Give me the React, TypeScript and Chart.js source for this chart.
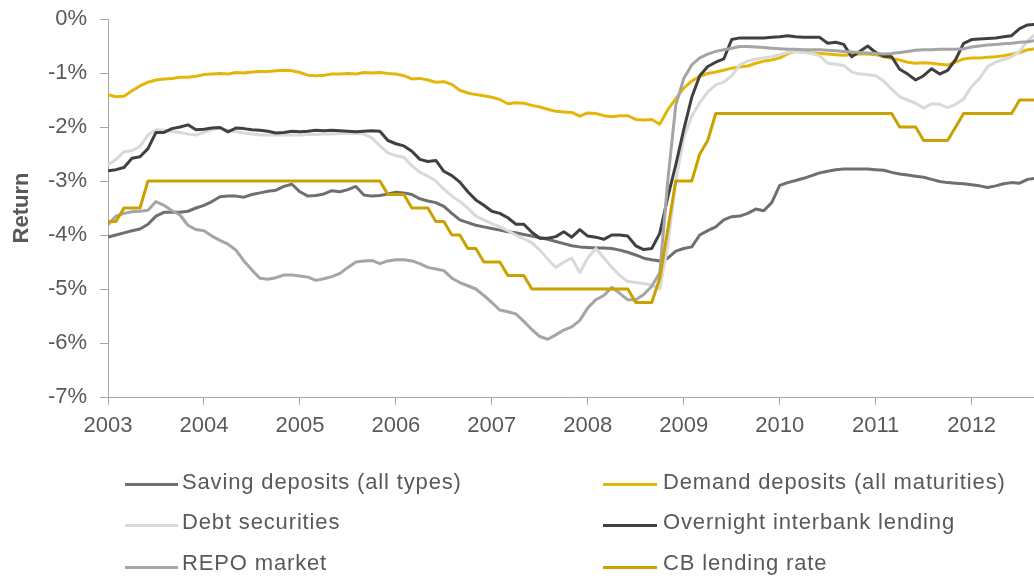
import React, { useEffect, useRef } from 'react';
import { Chart, registerables } from 'chart.js';

Chart.register(...registerables);

const FONT = '"Liberation Sans", Arial, Helvetica, sans-serif';
const TEXT_COLOR = '#595959';
const AXIS_COLOR = '#a6a6a6';

const startYear = 2003;
const xMin = 2003;
const xMax = 2012.65;
const yearTicks = [2003, 2004, 2005, 2006, 2007, 2008, 2009, 2010, 2011, 2012];
const yMin = -7;
const yMax = 0;
const yAxisTitle = 'Return';

const seriesNames = [
  'Saving deposits (all types)',
  'Demand deposits (all maturities)',
  'Debt securities',
  'Overnight interbank lending',
  'REPO market',
  'CB lending rate',
];

const seriesColors = ['#6f6f6f', '#e4b60a', '#d9d9d9', '#404040', '#a5a5a5', '#c9a200'];

// monthly values, Jan 2003 .. Sep 2012 (%)
const saving = [
  -4.04, -4.0, -3.96, -3.92, -3.89, -3.8, -3.65, -3.58, -3.58, -3.58, -3.56, -3.5,
  -3.45, -3.38, -3.29, -3.28, -3.28, -3.3, -3.25, -3.22, -3.19, -3.17, -3.1, -3.06,
  -3.2, -3.28, -3.27, -3.24, -3.18, -3.2, -3.16, -3.1, -3.26, -3.28, -3.27, -3.24,
  -3.21, -3.22, -3.25, -3.33, -3.37, -3.4, -3.47, -3.6, -3.72, -3.77, -3.82, -3.85,
  -3.88, -3.91, -3.94, -3.96, -3.99, -4.02, -4.05, -4.08, -4.12, -4.16, -4.2, -4.22,
  -4.23, -4.24, -4.24, -4.25, -4.28, -4.32, -4.37, -4.43, -4.46, -4.48, -4.43, -4.3,
  -4.25, -4.22, -4.0, -3.92, -3.85, -3.72, -3.66, -3.65, -3.6, -3.52, -3.55, -3.4,
  -3.08, -3.03, -2.99, -2.95, -2.9, -2.85, -2.82, -2.79, -2.78, -2.78, -2.78, -2.78,
  -2.79, -2.8, -2.84, -2.87, -2.89, -2.91, -2.93, -2.97, -3.01, -3.03, -3.04, -3.05,
  -3.07, -3.09, -3.12, -3.09, -3.05, -3.03, -3.04, -2.97, -2.95,
];

const demand = [
  -1.4, -1.44, -1.43, -1.33, -1.24, -1.17, -1.13, -1.11, -1.1, -1.08, -1.08, -1.06,
  -1.03, -1.02, -1.01, -1.02, -0.99, -1.0, -0.98, -0.97, -0.97, -0.96, -0.95, -0.96,
  -0.99, -1.04, -1.05, -1.04, -1.02, -1.02, -1.01, -1.02, -0.99, -1.0, -0.99, -1.01,
  -1.02, -1.05, -1.11, -1.1, -1.13, -1.17, -1.16, -1.21, -1.32, -1.37, -1.4, -1.42,
  -1.45, -1.49, -1.57, -1.55, -1.56, -1.6, -1.63, -1.67, -1.71, -1.72, -1.73, -1.8,
  -1.74, -1.75, -1.79, -1.81, -1.79, -1.79, -1.86, -1.87, -1.86, -1.95, -1.68, -1.48,
  -1.28, -1.15, -1.06, -1.01, -0.98, -0.95, -0.91, -0.89, -0.87, -0.82, -0.78, -0.76,
  -0.72, -0.64, -0.6, -0.61, -0.63, -0.64, -0.65, -0.66, -0.67, -0.66, -0.65, -0.65,
  -0.66, -0.7, -0.73, -0.76, -0.8, -0.82, -0.81, -0.82, -0.84, -0.85, -0.8, -0.74,
  -0.72, -0.72, -0.71, -0.7, -0.68, -0.65, -0.62, -0.57, -0.55,
];

const debt = [
  -2.7, -2.6, -2.46, -2.44, -2.36, -2.15, -2.05, -2.06, -2.08, -2.1, -2.13, -2.15,
  -2.1, -2.05, -2.02, -2.06, -2.09, -2.11, -2.13, -2.15, -2.15, -2.15, -2.15, -2.15,
  -2.15, -2.14, -2.14, -2.13, -2.13, -2.12, -2.12, -2.12, -2.13, -2.2, -2.35, -2.48,
  -2.53, -2.56, -2.72, -2.84, -2.91, -3.0, -3.15, -3.28, -3.38, -3.5, -3.65, -3.72,
  -3.79, -3.85, -3.92, -4.0, -4.07, -4.14, -4.28, -4.45, -4.6, -4.5, -4.43, -4.7,
  -4.42, -4.25, -4.42, -4.6, -4.75, -4.86, -4.88, -4.9, -4.93, -5.0, -4.2, -3.0,
  -2.2, -1.8, -1.55, -1.35, -1.22, -1.17, -1.05, -0.85, -0.78, -0.74, -0.72, -0.7,
  -0.66, -0.62, -0.6, -0.62, -0.64, -0.68, -0.82, -0.84, -0.86, -0.98, -1.02, -1.03,
  -1.05, -1.15, -1.3, -1.44, -1.5, -1.56, -1.65, -1.57, -1.58, -1.64, -1.58, -1.48,
  -1.25, -1.1, -0.88, -0.8, -0.75, -0.7, -0.6, -0.4, -0.28,
];

const overnight = [
  -2.81, -2.79, -2.75, -2.58, -2.55, -2.4, -2.1, -2.1, -2.03, -2.0, -1.96, -2.05,
  -2.04, -2.02, -2.01, -2.09, -2.02, -2.03, -2.05, -2.06, -2.08, -2.11, -2.1, -2.08,
  -2.09, -2.08, -2.06, -2.07, -2.06, -2.07, -2.08, -2.09, -2.08, -2.07, -2.08, -2.25,
  -2.31, -2.35, -2.45, -2.6, -2.64, -2.62, -2.82, -2.9, -3.02, -3.2, -3.35, -3.45,
  -3.56, -3.6, -3.68, -3.8, -3.8, -3.95, -4.06, -4.06, -4.03, -3.94, -4.04, -3.9,
  -4.02, -4.04, -4.08, -4.0, -4.0, -4.02, -4.2, -4.27, -4.25, -3.97, -3.3, -2.7,
  -2.05, -1.45, -1.05, -0.88, -0.8, -0.74, -0.38, -0.35, -0.35, -0.35, -0.35, -0.34,
  -0.33, -0.31, -0.33, -0.34, -0.34, -0.34, -0.45, -0.43, -0.47, -0.7, -0.6, -0.5,
  -0.62, -0.69, -0.7, -0.93, -1.02, -1.13, -1.05, -0.92, -1.02, -0.95, -0.75, -0.45,
  -0.38, -0.37, -0.36, -0.35, -0.33, -0.31, -0.18, -0.11, -0.1,
];

const repo = [
  -3.81, -3.65, -3.6, -3.57, -3.56, -3.54, -3.38, -3.45, -3.55, -3.63, -3.82, -3.9,
  -3.92, -4.02, -4.1, -4.17, -4.28, -4.48, -4.65, -4.8, -4.82, -4.79, -4.74, -4.74,
  -4.76, -4.78, -4.84, -4.81, -4.77, -4.71, -4.6, -4.5, -4.48, -4.47, -4.53, -4.48,
  -4.46, -4.46, -4.48, -4.53, -4.6, -4.63, -4.66, -4.8, -4.88, -4.94, -5.0, -5.12,
  -5.25, -5.39, -5.42, -5.46, -5.6, -5.75, -5.88, -5.93, -5.85, -5.76, -5.7, -5.58,
  -5.35, -5.2, -5.12, -4.97, -5.08, -5.2, -5.2, -5.1, -4.95, -4.7, -3.0, -1.6,
  -1.1, -0.85, -0.72, -0.65, -0.6, -0.57, -0.54, -0.51, -0.51, -0.52, -0.53, -0.54,
  -0.55, -0.56, -0.56, -0.57, -0.57, -0.57, -0.58, -0.59, -0.6, -0.61, -0.62, -0.63,
  -0.64, -0.65, -0.64, -0.62, -0.6, -0.58, -0.57, -0.57, -0.56, -0.56, -0.56, -0.55,
  -0.52, -0.5, -0.48, -0.47, -0.46, -0.45, -0.43, -0.42, -0.4,
];

const cbRate = [
  -3.75, -3.75, -3.5, -3.5, -3.5, -3.0, -3.0, -3.0, -3.0, -3.0, -3.0, -3.0,
  -3.0, -3.0, -3.0, -3.0, -3.0, -3.0, -3.0, -3.0, -3.0, -3.0, -3.0, -3.0,
  -3.0, -3.0, -3.0, -3.0, -3.0, -3.0, -3.0, -3.0, -3.0, -3.0, -3.0, -3.25,
  -3.25, -3.25, -3.5, -3.5, -3.5, -3.75, -3.75, -4.0, -4.0, -4.25, -4.25, -4.5,
  -4.5, -4.5, -4.75, -4.75, -4.75, -5.0, -5.0, -5.0, -5.0, -5.0, -5.0, -5.0,
  -5.0, -5.0, -5.0, -5.0, -5.0, -5.0, -5.25, -5.25, -5.25, -4.8, -3.9, -3.0,
  -3.0, -3.0, -2.5, -2.25, -1.75, -1.75, -1.75, -1.75, -1.75, -1.75, -1.75, -1.75,
  -1.75, -1.75, -1.75, -1.75, -1.75, -1.75, -1.75, -1.75, -1.75, -1.75, -1.75, -1.75,
  -1.75, -1.75, -1.75, -2.0, -2.0, -2.0, -2.25, -2.25, -2.25, -2.25, -2.0, -1.75,
  -1.75, -1.75, -1.75, -1.75, -1.75, -1.75, -1.5, -1.5, -1.5,
];

const seriesValues = [saving, demand, debt, overnight, repo, cbRate];
const monthPositions = saving.map((_, i) => startYear + i / 12);

const legendCols = [
  { lineLeft: 125, lineWidth: 53, textLeft: 182 },
  { lineLeft: 603, lineWidth: 54, textLeft: 663 },
];
const legendRows = [
  { lineY: 484, baseline: 489.5 },
  { lineY: 525, baseline: 529.5 },
  { lineY: 567, baseline: 571 },
];

export default function App() {
  const canvasRef = useRef<HTMLCanvasElement | null>(null);

  useEffect(() => {
    const canvas = canvasRef.current;
    if (!canvas) return;
    const n = seriesValues.length;
    const chart = new Chart(canvas, {
      type: 'line',
      data: {
        datasets: seriesValues.map((vals, k) => ({
          label: seriesNames[k],
          data: vals.map((v, i) => ({ x: monthPositions[i], y: v })),
          borderColor: seriesColors[k],
          backgroundColor: seriesColors[k],
          borderWidth: 3,
          pointRadius: 0,
          pointHoverRadius: 0,
          tension: 0,
          fill: false,
          borderJoinStyle: 'round' as const,
          borderCapStyle: 'butt' as const,
          order: n - k,
        })),
      },
      options: {
        responsive: false,
        animation: false,
        devicePixelRatio: 1,
        layout: { padding: { top: 19, right: 0, bottom: 0, left: 0 } },
        plugins: {
          legend: { display: false },
          tooltip: { enabled: false },
          title: { display: false },
        },
        scales: {
          x: {
            type: 'linear',
            min: xMin,
            max: xMax,
            afterBuildTicks: (scale: any) => {
              scale.ticks = yearTicks.map((v) => ({ value: v }));
            },
            afterFit: (scale: any) => {
              scale.height = 186;
              scale.paddingLeft = 0;
              scale.paddingRight = 0;
            },
            ticks: {
              autoSkip: false,
              maxRotation: 0,
              padding: 8,
              color: TEXT_COLOR,
              font: { family: FONT, size: 22 },
              callback: (v: any) => String(v),
            },
            grid: {
              display: true,
              drawOnChartArea: false,
              drawTicks: true,
              tickLength: 8,
              color: AXIS_COLOR,
              lineWidth: 1,
            },
            border: { display: true, color: AXIS_COLOR, width: 1 },
          },
          y: {
            type: 'linear',
            min: yMin,
            max: yMax,
            afterFit: (scale: any) => {
              scale.width = 108;
              scale.paddingTop = 0;
              scale.paddingBottom = 0;
            },
            ticks: {
              stepSize: 1,
              padding: 13,
              color: TEXT_COLOR,
              font: { family: FONT, size: 22 },
              callback: (v: any) => `${v}%`,
            },
            grid: {
              display: true,
              drawOnChartArea: false,
              drawTicks: true,
              tickLength: 8,
              color: AXIS_COLOR,
              lineWidth: 1,
            },
            border: { display: true, color: AXIS_COLOR, width: 1 },
            title: {
              display: true,
              text: yAxisTitle,
              color: TEXT_COLOR,
              font: { family: FONT, size: 22, weight: 'bold' },
              padding: { top: 9, bottom: 0 },
            },
          },
        },
      },
    } as any);
    return () => chart.destroy();
  }, []);

  return (
    <div
      style={{
        position: 'fixed',
        left: 0,
        top: 0,
        width: 1034,
        height: 583,
        background: '#ffffff',
        overflow: 'hidden',
      }}
    >
      <canvas
        ref={canvasRef}
        width={1034}
        height={583}
        style={{ display: 'block', width: 1034, height: 583 }}
      />
      {seriesNames.map((name, k) => {
        const col = legendCols[k % 2];
        const row = legendRows[Math.floor(k / 2)];
        return (
          <React.Fragment key={name}>
            <div
              style={{
                position: 'absolute',
                left: col.lineLeft,
                top: row.lineY - 1.5,
                width: col.lineWidth,
                height: 3,
                background: seriesColors[k],
              }}
            />
            <div
              style={{
                position: 'absolute',
                left: col.textLeft,
                top: row.baseline - 18.6,
                fontFamily: FONT,
                fontSize: 22,
                lineHeight: '22px',
                letterSpacing: '0.85px',
                color: TEXT_COLOR,
                whiteSpace: 'nowrap',
              }}
            >
              {name}
            </div>
          </React.Fragment>
        );
      })}
    </div>
  );
}
